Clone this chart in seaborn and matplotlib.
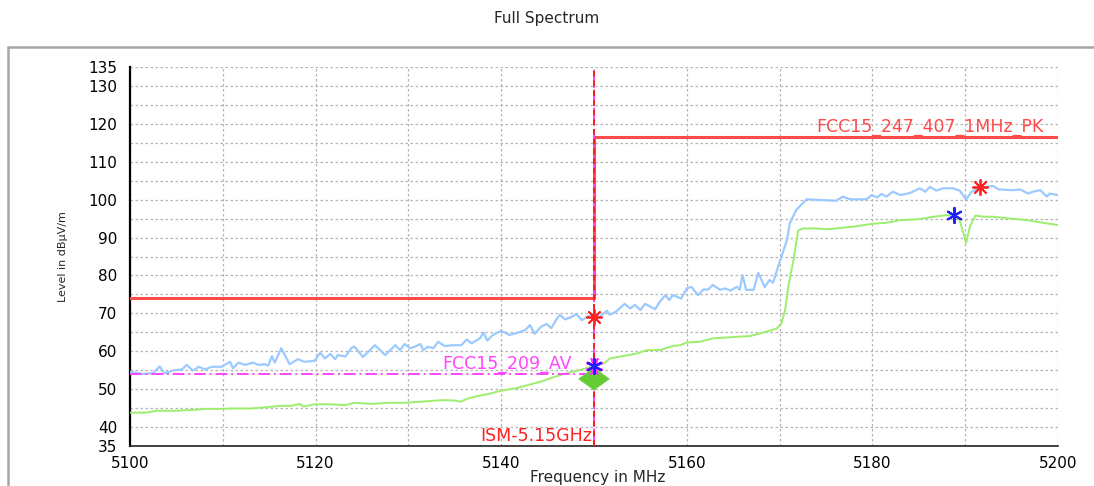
import numpy as np
import pandas as pd
import matplotlib
matplotlib.use("Agg")
import matplotlib.pyplot as plt
import seaborn as sns
from matplotlib.patches import Rectangle

# peak trace (MHz, dBuV/m)
peak_freq = [5100, 5101.3, 5102.5, 5103.2, 5103.7, 5104.8, 5105.6, 5106.1, 5106.8, 5107.4,
             5108.1, 5108.8, 5109.9, 5110.2, 5110.8, 5111.1, 5111.7, 5112.4, 5113.3, 5113.8,
             5114.5, 5114.9, 5115.3, 5115.6, 5116.3, 5117.2, 5118.1, 5118.8, 5119.9, 5120.5,
             5121.0, 5121.6, 5122.1, 5122.4, 5123.2, 5123.9, 5124.2, 5125.1, 5126.4, 5127.5,
             5128.6, 5129.1, 5129.6, 5130.2, 5130.7, 5131.3, 5131.6, 5132.1, 5132.7, 5133.2,
             5133.9, 5135.0, 5135.7, 5136.3, 5136.8, 5137.7, 5138.1, 5138.5, 5139.1, 5140.0,
             5140.9, 5141.8, 5142.6, 5143.1, 5143.6, 5144.3, 5144.9, 5145.4, 5145.9, 5146.3,
             5146.9, 5147.6, 5148.1, 5148.7, 5149.4, 5149.9, 5150.6, 5151.4, 5151.7, 5152.4,
             5153.3, 5153.9, 5154.4, 5155.0, 5155.5, 5156.6, 5157.1, 5157.7, 5158.1, 5158.5,
             5159.4, 5160.0, 5160.5, 5161.2, 5161.8, 5162.3, 5162.8, 5163.6, 5164.1, 5164.7,
             5165.4, 5165.7, 5166.0, 5166.4, 5167.2, 5167.7, 5168.4, 5168.9, 5169.3, 5170.0,
             5170.8, 5171.1, 5171.8, 5172.9, 5174.4, 5176.1, 5176.8, 5177.6, 5179.4, 5179.9,
             5180.5, 5181.0, 5181.5, 5182.2, 5183.0, 5184.1, 5185.1, 5185.7, 5186.2, 5186.9,
             5187.6, 5188.7, 5189.4, 5190.1, 5190.7, 5191.6, 5193.0, 5193.6, 5195.2, 5195.9,
             5196.8, 5197.3, 5198.1, 5198.8, 5199.1, 5200]
peak_level = [54.6, 54.0, 54.2, 56.0, 54.2, 55.0, 55.2, 56.4, 54.9, 55.9,
              55.2, 55.9, 55.9, 56.4, 57.2, 55.5, 57.0, 56.4, 57.0, 56.4,
              56.6, 56.2, 58.7, 57.0, 60.8, 56.6, 57.9, 57.2, 57.5, 59.6,
              58.1, 59.3, 57.9, 59.0, 58.6, 61.0, 61.2, 58.5, 61.6, 59.0,
              61.6, 60.3, 61.9, 60.8, 61.2, 61.9, 60.3, 61.2, 60.8, 62.5,
              61.4, 61.6, 61.6, 63.1, 62.1, 63.4, 64.9, 62.8, 64.3, 65.4,
              64.3, 64.9, 65.6, 66.9, 64.6, 66.5, 67.2, 66.1, 68.2, 69.6,
              68.4, 69.1, 69.8, 68.2, 69.3, 69.0, 69.1, 70.7, 69.6, 70.5,
              72.5, 71.3, 72.2, 70.9, 72.5, 71.1, 73.1, 74.8, 73.5, 74.8,
              73.9, 76.6, 77.0, 74.8, 76.3, 76.3, 77.5, 76.2, 76.6, 76.0,
              77.0, 76.2, 80.1, 76.2, 76.2, 80.7, 76.9, 78.8, 78.1, 83.5,
              89.4, 93.8, 97.3, 100.1, 99.9, 99.7, 100.8, 100.1, 100.1, 101.2,
              100.6, 101.5, 100.8, 102.1, 101.2, 101.8, 103.0, 102.1, 103.4, 102.4,
              103.0, 103.0, 102.4, 100.1, 102.1, 103.2, 103.6, 102.7, 102.5, 102.7,
              101.6, 102.1, 102.5, 100.8, 101.6, 101.2]

# average trace
avg_freq = [5100, 5101.6, 5103.0, 5104.8, 5106.6, 5108.4, 5109.9, 5110.9, 5113.1, 5114.5,
            5116.3, 5117.4, 5118.3, 5118.7, 5119.9, 5121.7, 5123.2, 5124.2, 5126.0, 5127.8,
            5129.6, 5131.4, 5133.6, 5135.0, 5135.6, 5136.5, 5137.5, 5138.6, 5140.0, 5141.5,
            5142.9, 5144.3, 5145.8, 5147.2, 5148.7, 5150.1, 5151.2, 5151.7, 5153.1, 5154.6,
            5155.7, 5157.1, 5158.5, 5159.3, 5160.0, 5161.4, 5162.8, 5164.7, 5166.8, 5168.6,
            5169.7, 5170.2, 5170.6, 5171.0, 5171.5, 5172.0, 5172.5, 5174.0, 5175.1, 5176.1,
            5178.3, 5179.9, 5181.5, 5183.0, 5184.8, 5186.6, 5188.0, 5188.9, 5189.4, 5190.1,
            5190.5, 5191.1, 5192.0, 5193.0, 5194.5, 5196.6, 5198.4, 5200]
avg_level = [43.8, 43.8, 44.3, 44.3, 44.5, 44.8, 44.8, 44.9, 44.9, 45.2,
             45.6, 45.6, 46.1, 45.4, 46.0, 46.0, 45.8, 46.4, 46.1, 46.4,
             46.4, 46.7, 47.1, 47.0, 46.7, 47.6, 48.2, 48.7, 49.6, 50.2,
             51.1, 52.0, 53.3, 54.3, 55.2, 56.1, 57.0, 58.1, 58.7, 59.4,
             60.3, 60.3, 61.4, 61.6, 62.3, 62.5, 63.4, 63.7, 64.0, 65.2,
             66.0, 67.4, 71.0, 78.0, 84.1, 91.8, 92.4, 92.4, 92.2, 92.4,
             93.0, 93.6, 93.9, 94.6, 94.8, 95.5, 95.9, 95.9, 94.6, 88.6,
             92.9, 95.8, 95.5, 95.5, 95.1, 94.6, 93.9, 93.3]

# limit lines
pk_limit_freq = [5100, 5150, 5150, 5200]
pk_limit_level = [74, 74, 116.6, 116.6]
av_limit_freq = [5100, 5150]
av_limit_level = [54, 54]
ism_freq = 5150

# markers
red_mark_freq = [5150, 5191.6]
red_mark_level = [69.0, 103.3]
blue_mark_freq = [5150, 5188.8]
blue_mark_level = [56.1, 96.0]
pink_mark_freq = [5150]
pink_mark_level = [56.1]
diamond_freq = [5150]
diamond_level = [52.7]

y_major = [35, 40, 50, 60, 70, 80, 90, 100, 110, 120, 130, 135]
y_minor = [45, 55, 65, 75, 85, 95, 105, 115, 125]
x_major = [5100, 5120, 5140, 5160, 5180, 5200]
x_minor = [5110, 5130, 5150, 5170, 5190]

sns.set_style("white")
plt.rcParams['font.family'] = ['DejaVu Sans']

fig = plt.figure(figsize=(10.94, 4.86), dpi=100)
ax = fig.add_axes([0.1188, 0.0823, 0.8483, 0.7798])

# grey panel frame
fig.patches.append(Rectangle((8 / 1094, -0.05), 1.1, 0.9533, transform=fig.transFigure,
                             fill=False, edgecolor="#a6a6a6", linewidth=1.8, zorder=0))

peak_df = pd.DataFrame({"freq": peak_freq, "level": peak_level})
avg_df = pd.DataFrame({"freq": avg_freq, "level": avg_level})

sns.lineplot(data=avg_df, x="freq", y="level", estimator=None, sort=False,
             color="#9cee6c", linewidth=1.4, ax=ax, zorder=3)
sns.lineplot(data=peak_df, x="freq", y="level", estimator=None, sort=False,
             color="#9ccaff", linewidth=1.6, ax=ax, zorder=3)

sns.lineplot(x=av_limit_freq, y=av_limit_level, estimator=None, sort=False,
             color="#ff44ff", linewidth=1.4, linestyle=(0, (6, 2, 1, 2)), ax=ax, zorder=4)
sns.lineplot(x=pk_limit_freq, y=pk_limit_level, estimator=None, sort=False,
             color="#ff4a4a", linewidth=2.2, ax=ax, zorder=4)

ax.axvline(ism_freq, color="#ff44ff", linewidth=1.4, linestyle=(0, (6, 2, 1, 2)), zorder=5)
ax.axvline(ism_freq, color="#ff1a1a", linewidth=1.4, linestyle=(0, (3, 2)), zorder=5)

sns.scatterplot(x=diamond_freq, y=diamond_level, marker=[(-1, 0), (0, 0.72), (1, 0), (0, -0.72), (-1, 0)],
                s=520, color="#66cc33", edgecolor="none", ax=ax, zorder=6)
sns.scatterplot(x=pink_mark_freq, y=pink_mark_level, marker=(8, 2, 22), s=140,
                color="#ff33ff", linewidth=1.3, ax=ax, zorder=7)
sns.scatterplot(x=blue_mark_freq, y=blue_mark_level, marker=(6, 2, 0), s=120,
                color="#1f1fff", linewidth=1.5, ax=ax, zorder=7)
sns.scatterplot(x=red_mark_freq, y=red_mark_level, marker=(8, 2, 0), s=120,
                color="#ff2020", linewidth=1.3, ax=ax, zorder=7)

ax.text(5198.4, 116.9, "FCC15_247_407_1MHz_PK", color="#ff4a4a", fontsize=12.5,
        ha="right", va="bottom", zorder=8)
ax.text(5133.6, 54.3, "FCC15_209_AV", color="#ff44ff", fontsize=12.5,
        ha="left", va="bottom", zorder=2)
ax.text(5149.8, 35.2, "ISM-5.15GHz", color="#ff2020", fontsize=12.5,
        ha="right", va="bottom", zorder=8)

ax.set_xlim(5100, 5200)
ax.set_ylim(35, 135)
ax.set_xticks(x_major)
ax.set_xticks(x_minor, minor=True)
ax.set_yticks(y_major)
ax.set_yticks(y_minor, minor=True)
ax.tick_params(axis="y", which="both", direction="inout", length=10, width=1.3,
               pad=4.3, labelsize=11, colors="black")
ax.tick_params(axis="x", which="both", direction="inout", length=6, width=1.3,
               pad=4.3, labelsize=11, colors="black")
ax.tick_params(which="minor", labelleft=False, labelbottom=False)

ax.grid(True, which="both", color="#b4b4b4", linestyle=(0, (2, 2)), linewidth=0.9)
ax.set_axisbelow(True)

for side in ["top", "right"]:
    ax.spines[side].set_visible(False)
ax.spines["left"].set_linewidth(1.6)
ax.spines["bottom"].set_linewidth(1.2)
ax.spines["left"].set_color("black")
ax.spines["bottom"].set_color("#222222")

ax.set_ylabel("Level in dBµV/m", fontsize=8)
ax.yaxis.set_label_coords(-0.0668, 0.501)
ax.set_xlabel("Frequency in MHz", fontsize=11)
ax.xaxis.set_label_coords(0.504, -0.064)

fig.text(0.5, 1 - 18 / 486, "Full Spectrum", fontsize=11, ha="center", va="center")

fig.savefig("out.png", dpi=100)
